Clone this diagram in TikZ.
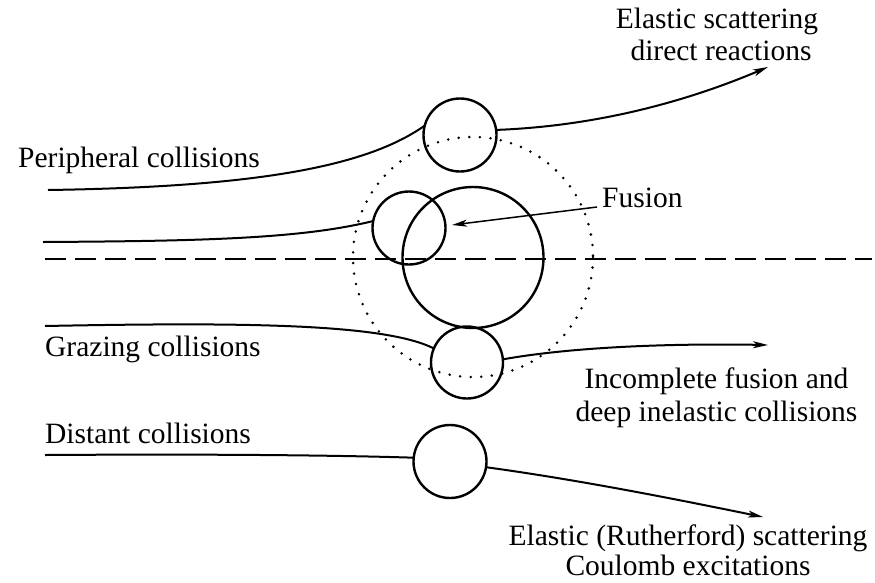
\documentclass[tikz,border=0pt]{standalone}
\usepackage{fontspec}
\setmainfont{Liberation Serif}
\usetikzlibrary{arrows.meta}
\begin{document}
\begin{tikzpicture}[x=1pt,y=-1pt,
  lbl/.style={inner sep=0pt,font=\fontsize{29.5}{32}\selectfont},
  ball/.style={circle,draw,line width=2.4pt,inner sep=0pt,outer sep=0pt,minimum size=#1},
  traj/.style={line width=2pt},
  arr/.style={-{Stealth[length=15pt,width=7pt,inset=4pt]}},
  dots/.style={line width=2.8pt,line cap=round,dash pattern=on 0pt off 10.6pt}
]
\useasboundingbox (0,0) rectangle (875,582);
% dotted and dashed reference
\draw[dots] (473,257) circle[radius=120];
\coordinate (dl) at (45,259);
\coordinate (dr) at (872,259);
\draw[line width=2pt,dash pattern=on 21pt off 9pt] (dl) -- (dr);
% nuclei
\node[ball=73pt] (top) at (460,135) {};
\node[ball=73pt] (mid) at (409,228) {};
\node[ball=141pt] (big) at (473,257.5) {};
\node[ball=72pt] (low) at (467,362.5) {};
\node[ball=73pt] (far) at (450,461.5) {};
% labels
\node[lbl,anchor=base] (t1) at (717,28) {Elastic scattering};
\node[lbl,anchor=base] (t2) at (721,60) {direct reactions};
\node[lbl,anchor=base west] (per) at (18,167) {Peripheral collisions};
\node[lbl,anchor=base west] (fus) at (602,207) {Fusion};
\node[lbl,anchor=base west] (gra) at (45,356) {Grazing collisions};
\node[lbl,anchor=base] (t3) at (716.5,388) {Incomplete fusion and};
\node[lbl,anchor=base] (t4) at (716.5,421) {deep inelastic collisions};
\node[lbl,anchor=base west] (dis) at (45,443) {Distant collisions};
\node[lbl,anchor=base] (t5) at (688,545) {Elastic (Rutherford) scattering};
\node[lbl,anchor=base] (t6) at (688,575) {Coulomb excitations};
% trajectory start / end points
\coordinate (s1) at (48,190);
\coordinate (e1) at (768,67);
\coordinate (s2) at (43,242);
\coordinate (s3) at (45,326);
\coordinate (e3) at (768,345);
\coordinate (s4) at (45,455);
\coordinate (e4) at (763,517);
\coordinate (fa) at (597,207);
\coordinate (fb) at (452,225);
% peripheral
\draw[traj] (s1) .. controls (250,187) and (365,168) .. (top.165);
\draw[traj,arr] (top.8) .. controls (600,126) and (690,100) .. (e1);
% middle
\draw[traj] (s2) .. controls (200,241) and (300,239) .. (mid.169);
\draw[line width=1.5pt,arr] (fa) -- (fb);
% grazing
\draw[traj] (s3) .. controls (250,322) and (385,324) .. (low.157);
\draw[traj,arr] (low.5) .. controls (560,349) and (650,343) .. (e3);
% distant
\draw[traj] (s4) .. controls (200,454) and (330,455) .. (far.174);
\draw[traj,arr] (far.-9) .. controls (580,480) and (680,500) .. (e4);
\end{tikzpicture}
\end{document}
